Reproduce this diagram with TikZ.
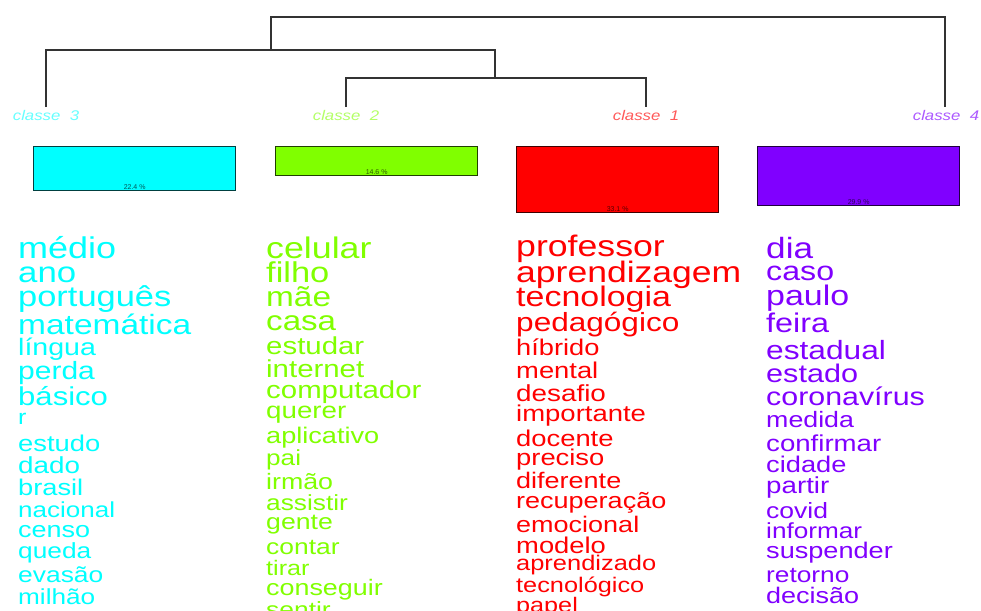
\documentclass[tikz,border=0pt]{standalone}
\usepackage{fontspec}
\setmainfont{Liberation Sans}
\usepackage{tikz}
\definecolor{cthree}{RGB}{0,255,255}
\definecolor{ctwo}{RGB}{128,255,0}
\definecolor{cone}{RGB}{255,0,0}
\definecolor{cfour}{RGB}{128,0,255}
\newcommand{\wrd}[2]{\scalebox{1.2}[1]{\fontsize{#1}{#1}\selectfont #2}}

\begin{document}
\begin{tikzpicture}[x=1pt, y=-1pt]
			\tikzset{tree/.style={draw=black!80, line width=1.3pt},
				klass/.style={anchor=base, inner sep=0pt, font=\itshape},
				bar/.style={draw, line width=1.3pt, anchor=north west, inner sep=0pt, minimum width=202pt},
				pct/.style={anchor=south, inner sep=1.5pt, font=\fontsize{7}{7}\selectfont},
				word/.style={anchor=base west, inner sep=0pt}}
			\useasboundingbox (0,0) rectangle (981,610);
			\clip (0,0) rectangle (981,610);
			
			% dendrogram
			\coordinate (l_3) at (46,107);
			\coordinate (l_2) at (346,107);
			\coordinate (l_1) at (646,107);
			\coordinate (l_4) at (945,107);
			\coordinate (m_21) at (495,78);
			\coordinate (m_321) at (271,50);
			\coordinate (m_top) at (608,17);
			\draw[tree] (l_2) |- (m_21) -| (l_1);
			\draw[tree] (l_3) |- (m_321) -| (m_21);
			\draw[tree] (m_321) |- (m_top) -| (l_4);
			
			\node[klass, text=cthree!60] (k_3) at (46,120) {\wrd{14}{classe\ \ 3}};
			\node[klass, text=ctwo!60] (k_2) at (346,120) {\wrd{14}{classe\ \ 2}};
			\node[klass, text=cone!65] (k_1) at (646,120) {\wrd{14}{classe\ \ 1}};
			\node[klass, text=cfour!65] (k_4) at (946,120) {\wrd{14}{classe\ \ 4}};
			
			% bars
			\node[bar, fill=cthree, draw=cthree!25!black, minimum height=44pt] (b_3) at (33,146) {};
			\node[bar, fill=ctwo, draw=ctwo!25!black, minimum height=29pt] (b_2) at (275,146) {};
			\node[bar, fill=cone, draw=cone!25!black, minimum height=66pt] (b_1) at (516,146) {};
			\node[bar, fill=cfour, draw=cfour!25!black, minimum height=59pt] (b_4) at (757,146) {};
			\node[pct, text=cthree!35!black] at (b_3.south) {22.4 \%};
			\node[pct, text=ctwo!35!black] at (b_2.south) {14.6 \%};
			\node[pct, text=cone!35!black] at (b_1.south) {33.1 \%};
			\node[pct, text=cfour!35!black] at (b_4.south) {29.9 \%};
			
			% classe 3
			\node[word, text=cthree] (w3_1) at (18,258) {\wrd{30}{médio}};
			\node[word, text=cthree] (w3_2) at (18,282) {\wrd{29}{ano}};
			\node[word, text=cthree] (w3_3) at (18,306) {\wrd{28.7}{português}};
			\node[word, text=cthree] (w3_4) at (18,334) {\wrd{27.9}{matemática}};
			\node[word, text=cthree] (w3_5) at (18,355) {\wrd{23.8}{língua}};
			\node[word, text=cthree] (w3_6) at (18,379) {\wrd{25}{perda}};
			\node[word, text=cthree] (w3_7) at (18,405) {\wrd{25.9}{básico}};
			\node[word, text=cthree] (w3_8) at (18,424) {\wrd{21}{r}};
			\node[word, text=cthree] (w3_9) at (18,451) {\wrd{22.8}{estudo}};
			\node[word, text=cthree] (w3_10) at (18,473) {\wrd{23.2}{dado}};
			\node[word, text=cthree] (w3_11) at (18,495) {\wrd{22.7}{brasil}};
			\node[word, text=cthree] (w3_12) at (18,517) {\wrd{21.7}{nacional}};
			\node[word, text=cthree] (w3_13) at (18,537) {\wrd{22.5}{censo}};
			\node[word, text=cthree] (w3_14) at (18,558) {\wrd{21.9}{queda}};
			\node[word, text=cthree] (w3_15) at (18,582) {\wrd{22}{evasão}};
			\node[word, text=cthree] (w3_16) at (18,604) {\wrd{21.8}{milhão}};
			
			% classe 2
			\node[word, text=ctwo] (w2_1) at (266,258) {\wrd{29.8}{celular}};
			\node[word, text=ctwo] (w2_2) at (266,282) {\wrd{28.7}{filho}};
			\node[word, text=ctwo] (w2_3) at (266,306) {\wrd{27.8}{mãe}};
			\node[word, text=ctwo] (w2_4) at (266,330) {\wrd{27.6}{casa}};
			\node[word, text=ctwo] (w2_5) at (266,354) {\wrd{24.5}{estudar}};
			\node[word, text=ctwo] (w2_6) at (266,377) {\wrd{24.5}{internet}};
			\node[word, text=ctwo] (w2_7) at (266,398) {\wrd{24.5}{computador}};
			\node[word, text=ctwo] (w2_8) at (266,418) {\wrd{23.1}{querer}};
			\node[word, text=ctwo] (w2_9) at (266,443) {\wrd{22.6}{aplicativo}};
			\node[word, text=ctwo] (w2_10) at (266,465) {\wrd{21.8}{pai}};
			\node[word, text=ctwo] (w2_11) at (266,489) {\wrd{22.3}{irmão}};
			\node[word, text=ctwo] (w2_12) at (266,510) {\wrd{21.9}{assistir}};
			\node[word, text=ctwo] (w2_13) at (266,529) {\wrd{22.2}{gente}};
			\node[word, text=ctwo] (w2_14) at (266,554) {\wrd{22}{contar}};
			\node[word, text=ctwo] (w2_15) at (266,575) {\wrd{21}{tirar}};
			\node[word, text=ctwo] (w2_16) at (266,595) {\wrd{22.4}{conseguir}};
			\node[word, text=ctwo] (w2_17) at (266,617) {\wrd{22}{sentir}};
			
			% classe 1
			\node[word, text=cone] (w1_1) at (516,256) {\wrd{29.7}{professor}};
			\node[word, text=cone] (w1_2) at (516,282) {\wrd{29.6}{aprendizagem}};
			\node[word, text=cone] (w1_3) at (516,306) {\wrd{28.3}{tecnologia}};
			\node[word, text=cone] (w1_4) at (516,331) {\wrd{26.3}{pedagógico}};
			\node[word, text=cone] (w1_5) at (516,355) {\wrd{22.7}{híbrido}};
			\node[word, text=cone] (w1_6) at (516,378) {\wrd{22.8}{mental}};
			\node[word, text=cone] (w1_7) at (516,401) {\wrd{23.2}{desafio}};
			\node[word, text=cone] (w1_8) at (516,421) {\wrd{22.9}{importante}};
			\node[word, text=cone] (w1_9) at (516,446) {\wrd{22.8}{docente}};
			\node[word, text=cone] (w1_10) at (516,465) {\wrd{22.8}{preciso}};
			\node[word, text=cone] (w1_11) at (516,488) {\wrd{22.5}{diferente}};
			\node[word, text=cone] (w1_12) at (516,508) {\wrd{22.5}{recuperação}};
			\node[word, text=cone] (w1_13) at (516,532) {\wrd{22.5}{emocional}};
			\node[word, text=cone] (w1_14) at (516,553) {\wrd{22.8}{modelo}};
			\node[word, text=cone] (w1_15) at (516,570) {\wrd{21.2}{aprendizado}};
			\node[word, text=cone] (w1_16) at (516,592) {\wrd{21.1}{tecnológico}};
			\node[word, text=cone] (w1_17) at (516,612) {\wrd{21}{papel}};
			
			% classe 4
			\node[word, text=cfour] (w4_1) at (766,258) {\wrd{29.3}{dia}};
			\node[word, text=cfour] (w4_2) at (766,280) {\wrd{26.8}{caso}};
			\node[word, text=cfour] (w4_3) at (766,305) {\wrd{28.3}{paulo}};
			\node[word, text=cfour] (w4_4) at (766,332) {\wrd{27}{feira}};
			\node[word, text=cfour] (w4_5) at (766,359) {\wrd{26.4}{estadual}};
			\node[word, text=cfour] (w4_6) at (766,382) {\wrd{25.5}{estado}};
			\node[word, text=cfour] (w4_7) at (766,405) {\wrd{25.3}{coronavírus}};
			\node[word, text=cfour] (w4_8) at (766,427) {\wrd{22.3}{medida}};
			\node[word, text=cfour] (w4_9) at (766,451) {\wrd{23}{confirmar}};
			\node[word, text=cfour] (w4_10) at (766,472) {\wrd{22.7}{cidade}};
			\node[word, text=cfour] (w4_11) at (766,493) {\wrd{23.1}{partir}};
			\node[word, text=cfour] (w4_12) at (766,518) {\wrd{22.1}{covid}};
			\node[word, text=cfour] (w4_13) at (766,538) {\wrd{21.8}{informar}};
			\node[word, text=cfour] (w4_14) at (766,558) {\wrd{22.6}{suspender}};
			\node[word, text=cfour] (w4_15) at (766,582) {\wrd{21.9}{retorno}};
			\node[word, text=cfour] (w4_16) at (766,603) {\wrd{22.5}{decisão}};
			
		\end{tikzpicture}
\end{document}
